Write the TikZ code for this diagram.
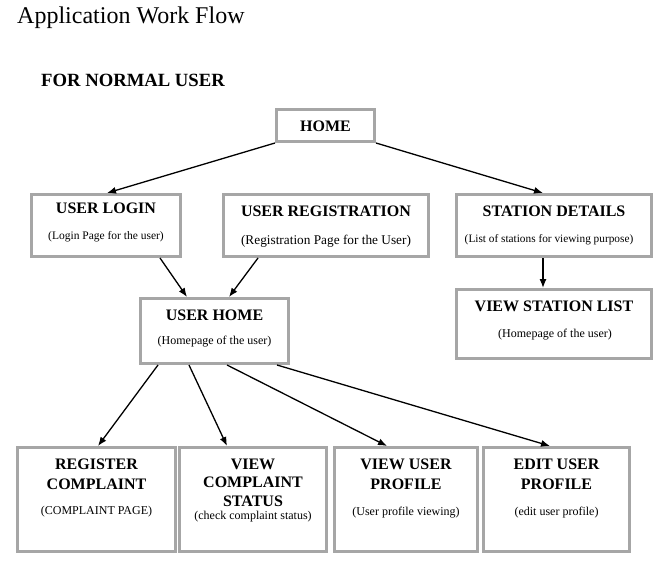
\documentclass[tikz,border=0pt]{standalone}
\usepackage{fontspec}
\setmainfont{Liberation Serif}
\usetikzlibrary{arrows.meta}
\definecolor{boxgray}{RGB}{166,166,166}
\tikzset{
  box/.style={draw=boxgray, line width=3bp, fill=white, inner sep=0pt},
  ttl/.style={font=\bfseries\fontsize{16bp}{20bp}\selectfont, inner sep=0pt, align=center},
  sub/.style={font=\fontsize{12bp}{14bp}\selectfont, inner sep=0pt, align=center},
  arr/.style={line width=1.3bp, -{Latex[length=9bp,width=7bp]}},
}
\begin{document}
\begin{tikzpicture}[x=1bp,y=-1bp]
\useasboundingbox (0,0) rectangle (670,572);
\fill[white] (0,0) rectangle (670,572);
% headings
\node[anchor=base west, inner sep=0pt, font=\fontsize{24bp}{28bp}\selectfont] (title) at (17,24) {Application Work Flow};
\node[anchor=base west, inner sep=0pt, font=\bfseries\fontsize{18.67bp}{22bp}\selectfont] (forn) at (41,87) {FOR NORMAL USER};
% boxes
\node[box, minimum width=98bp, minimum height=32bp] (home) at (325.5,125.5) {};
\node[box, minimum width=149bp, minimum height=62bp] (login) at (106,225.5) {};
\node[box, minimum width=205bp, minimum height=62bp] (reg) at (326,225.5) {};
\node[box, minimum width=195bp, minimum height=62bp] (station) at (554,225.5) {};
\node[box, minimum width=195bp, minimum height=69bp] (vsl) at (554,324) {};
\node[box, minimum width=148bp, minimum height=65bp] (uhome) at (214.5,331) {};
\node[box, minimum width=158bp, minimum height=104bp] (rc) at (96.5,499.5) {};
\node[box, minimum width=147bp, minimum height=104bp] (vcs) at (253,499.5) {};
\node[box, minimum width=143bp, minimum height=104bp] (vup) at (406,499.5) {};
\node[box, minimum width=146bp, minimum height=104bp] (eup) at (556.5,499.5) {};
% texts
\node[ttl] (homet) at (325.5,126) {HOME};
\node[ttl] (logint) at (106,208) {USER LOGIN};
\node[sub, font=\fontsize{11.5bp}{14bp}\selectfont] (logins) at (106,237) {(Login Page for the user)};
\node[ttl] (regt) at (326,211) {USER REGISTRATION};
\node[sub, font=\fontsize{13.3bp}{15bp}\selectfont] (regs) at (326,241) {(Registration Page for the User)};
\node[ttl] (stationt) at (554,211) {STATION DETAILS};
\node[sub, font=\fontsize{11.3bp}{14bp}\selectfont] (stations) at (549,240) {(List of stations for viewing purpose)};
\node[ttl] (vslt) at (554,306) {VIEW STATION LIST};
\node[sub] (vsls) at (555,335) {(Homepage of the user)};
\node[ttl] (uhomet) at (214.5,315) {USER HOME};
\node[sub] (uhomes) at (214.5,342) {(Homepage of the user)};
\node[ttl] (rct) at (96.5,474) {REGISTER\\COMPLAINT};
\node[sub] (rcs) at (96.5,512) {(COMPLAINT PAGE)};
\node[ttl, font=\bfseries\fontsize{16bp}{18.5bp}\selectfont] (vcst) at (253,482.5) {VIEW\\COMPLAINT\\STATUS};
\node[sub] (vcss) at (253,517) {(check complaint status)};
\node[ttl] (vupt) at (406,474) {VIEW USER\\PROFILE};
\node[sub] (vups) at (406,513) {(User profile viewing)};
\node[ttl] (eupt) at (556.5,474) {EDIT USER\\PROFILE};
\node[sub] (eups) at (556.5,513) {(edit user profile)};
% arrows
\draw[arr] (home.south west) -- ([xshift=1bp]login.north);
\draw[arr] (home.south east) -- ([xshift=-11bp]station.north);
\draw[arr] ([xshift=54bp]login.south) -- ([xshift=-27.5bp]uhome.north);
\draw[arr] ([xshift=-68bp]reg.south) -- ([xshift=14.5bp]uhome.north);
\draw[arr] ([xshift=-11bp]station.south) -- ([xshift=-11bp]vsl.north);
\draw[arr] ([xshift=-56.5bp]uhome.south) -- ([xshift=1.5bp]rc.north);
\draw[arr] ([xshift=-25.5bp]uhome.south) -- ([xshift=-26bp]vcs.north);
\draw[arr] ([xshift=12.5bp]uhome.south) -- ([xshift=-19bp]vup.north);
\draw[arr] ([xshift=62.5bp]uhome.south) -- ([xshift=-6.5bp]eup.north);
\end{tikzpicture}
\end{document}
